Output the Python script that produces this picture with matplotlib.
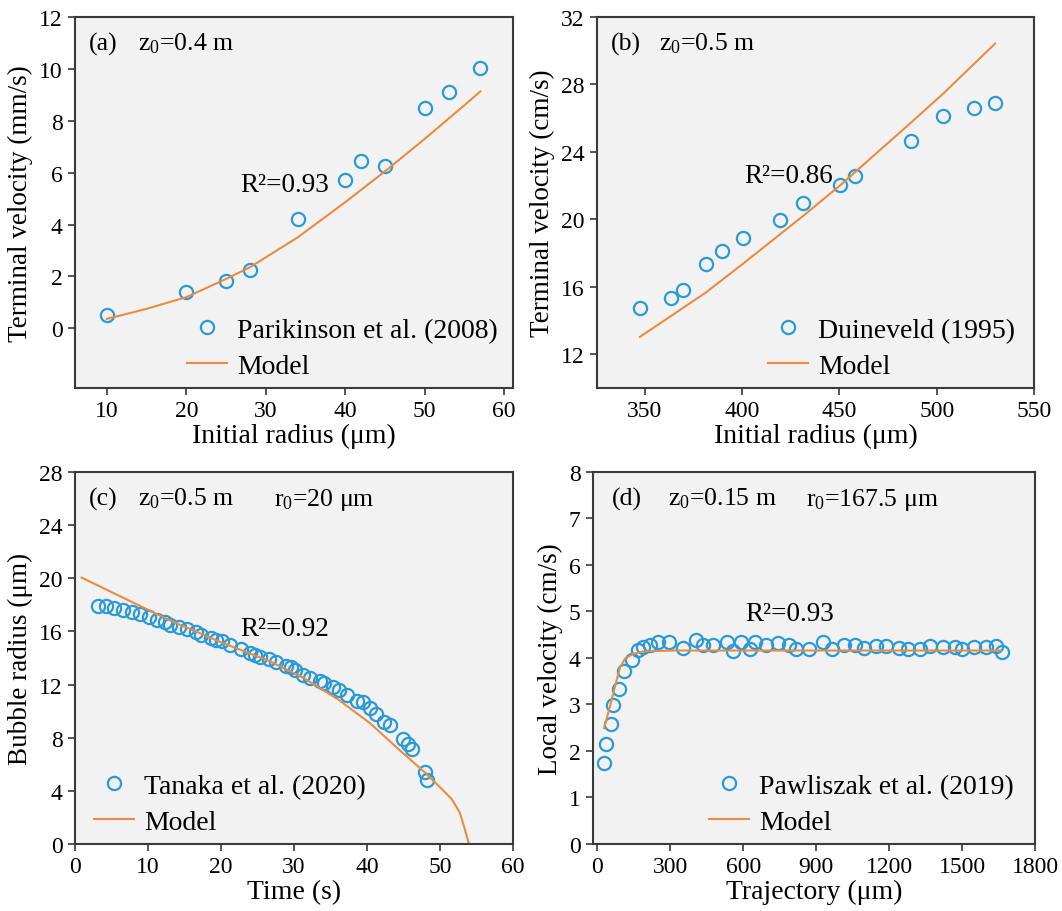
import numpy as np
import matplotlib
matplotlib.use("Agg")
import matplotlib.pyplot as plt

plt.rcParams["font.family"] = ["Liberation Serif", "DejaVu Serif"]
plt.rcParams["mathtext.fontset"] = "custom"
plt.rcParams["mathtext.rm"] = "Liberation Serif"
plt.rcParams["mathtext.it"] = "Liberation Serif:italic"

BLUE = "#2b9ad8"
ORANGE = "#ec8b3f"
BG = "#f2f2f2"
SPINE = "#3a3a3a"

# (a) Parkinson et al. (2008)
a_exp_r = [10, 20, 25, 28, 34, 40, 42, 45, 50, 53, 57]
a_exp_v = [0.51, 1.41, 1.83, 2.23, 4.23, 5.70, 6.43, 6.24, 8.51, 9.09, 10.03]
a_mod_r = [10, 15, 20, 25, 28, 34, 40, 45, 50, 55, 57]
a_mod_v = [0.36, 0.75, 1.2, 1.9, 2.35, 3.5, 4.86, 6.05, 7.3, 8.6, 9.13]

# (b) Duineveld (1995)
b_exp_r = [347.4, 363.2, 369.3, 381.3, 389.4, 400.2, 419.2, 431.3, 450.2, 458.2, 487, 503.3, 519.2, 530]
b_exp_v = [14.77, 15.31, 15.80, 17.33, 18.10, 18.89, 19.96, 20.99, 22.06, 22.57, 24.65, 26.10, 26.63, 26.89]
b_mod_r = [347.4, 381.3, 400.2, 431.3, 450.2, 487, 503.3, 530]
b_mod_v = [13.03, 15.66, 17.35, 20.2, 22.0, 25.76, 27.45, 30.42]

# (c) Tanaka et al. (2020)
c_exp_t = [3.2, 4.25, 5.35, 6.54, 7.8, 8.9, 10.2, 11.3, 12.4, 13.0, 14.3, 15.3, 16.6, 17.3, 18.7,
           19.3, 20.1, 21.2, 22.7, 24.0, 24.7, 25.4, 26.6, 27.6, 28.9, 29.6, 30.2, 31.2, 32.2, 33.6,
           34.1, 35.3, 36.2, 37.3, 38.7, 39.4, 40.4, 41.2, 42.3, 43.2, 44.9, 45.6, 46.2, 48.0, 48.2]
c_exp_r = [17.88, 17.88, 17.76, 17.58, 17.48, 17.3, 17.08, 16.88, 16.68, 16.5, 16.32, 16.2, 15.95, 15.75, 15.5,
           15.37, 15.29, 14.94, 14.66, 14.36, 14.23, 14.1, 13.9, 13.73, 13.43, 13.3, 13.1, 12.7, 12.5, 12.28,
           12.13, 11.8, 11.6, 11.2, 10.75, 10.65, 10.25, 9.75, 9.19, 8.94, 7.93, 7.56, 7.13, 5.42, 4.79]
c_mod_t = [0.9, 13.0, 20.1, 26.7, 31.3, 36.0, 40.4, 44.5, 47.9, 50.0, 51.6, 52.7, 53.4, 53.9, 54.0]
c_mod_r = [20.05, 16.83, 15.16, 13.75, 12.5, 10.9, 9.1, 7.05, 5.40, 4.27, 3.39, 2.39, 1.13, 0.13, 0.0]

# (d) Pawliszak et al. (2019)
d_exp_x = [27.4, 35.6, 56.2, 65.8, 89.1, 109.7, 141.2, 168.6, 189.2, 216.6, 250.9, 296.1, 351, 404.4, 436,
           477, 532, 556.6, 589.5, 628, 648.5, 693.7, 744.5, 788.3, 817, 869.2, 929.5, 965.2, 1014.5, 1059.8,
           1096.8, 1144.8, 1187.3, 1240.8, 1276.5, 1327.2, 1366.9, 1423.1, 1471.1, 1501.2, 1550.6, 1597.2,
           1639.7, 1663]
d_exp_v = [1.74, 2.14, 2.58, 2.99, 3.34, 3.72, 3.96, 4.18, 4.23, 4.28, 4.35, 4.35, 4.22, 4.38, 4.27,
           4.27, 4.35, 4.14, 4.35, 4.19, 4.35, 4.28, 4.33, 4.27, 4.2, 4.2, 4.35, 4.2, 4.28, 4.28,
           4.22, 4.25, 4.25, 4.22, 4.2, 4.2, 4.25, 4.23, 4.23, 4.2, 4.23, 4.23,
           4.25, 4.12]
d_mod_x = [27.6, 52.3, 72.8, 93.4, 114, 148, 189, 313, 800, 1660]
d_mod_v = [2.49, 2.97, 3.40, 3.80, 3.99, 4.09, 4.14, 4.16, 4.16, 4.16]


def style(ax):
    ax.set_facecolor(BG)
    for s in ax.spines.values():
        s.set_color(SPINE)
        s.set_linewidth(1.5)
    ax.tick_params(direction="out", length=5, width=1.2, color=SPINE, labelsize=17, pad=4)


def draw(ax, ex, ey, mx, my, label):
    ax.plot(ex, ey, "o", mfc="none", mec=BLUE, mew=1.6, ms=9.5, label=label)
    ax.plot(mx, my, "-", color=ORANGE, lw=1.5, label="Model")


def legend(ax, x, y):
    ax.legend(loc="lower left", bbox_to_anchor=(x, y), frameon=False, fontsize=20,
              borderpad=0, borderaxespad=0, handlelength=1.45, handletextpad=0.35,
              labelspacing=0.38, numpoints=1)


fig = plt.figure(figsize=(10.62, 9.12), dpi=100)
ax1 = fig.add_axes([0.0706, 0.5735, 0.4124, 0.4068])
ax2 = fig.add_axes([0.5621, 0.5735, 0.4115, 0.4068])
ax3 = fig.add_axes([0.0706, 0.0735, 0.4124, 0.4079])
ax4 = fig.add_axes([0.5584, 0.0735, 0.4162, 0.4079])
for ax in (ax1, ax2, ax3, ax4):
    style(ax)

XL, YL, AN, R2 = 20, 19.5, 18.5, 19.5

# (a)
draw(ax1, a_exp_r, a_exp_v, a_mod_r, a_mod_v, "Parikinson et al. (2008)")
ax1.set_xlim(6, 61.1)
ax1.set_ylim(-2.3, 12)
ax1.set_xticks(range(10, 61, 10))
ax1.set_yticks(range(0, 13, 2))
ax1.set_xlabel("Initial radius (μm)", fontsize=XL, labelpad=1)
ax1.set_ylabel("Terminal velocity (mm/s)", fontsize=YL, labelpad=4)
ax1.text(0.032, 0.912, "(a)", transform=ax1.transAxes, fontsize=AN, va="baseline")
ax1.text(0.143, 0.912, "z$_0$=0.4 m", transform=ax1.transAxes, fontsize=AN, va="baseline")
ax1.text(26.8, 5.31, "R²=0.93", fontsize=R2, va="baseline")
legend(ax1, 0.256, 0.025)

# (b)
draw(ax2, b_exp_r, b_exp_v, b_mod_r, b_mod_v, "Duineveld (1995)")
ax2.set_xlim(325.3, 550)
ax2.set_ylim(10, 32)
ax2.set_xticks(range(350, 551, 50))
ax2.set_yticks(range(12, 33, 4))
ax2.set_xlabel("Initial radius (μm)", fontsize=XL, labelpad=1)
ax2.set_ylabel("Terminal velocity (cm/s)", fontsize=YL, labelpad=4)
ax2.text(0.031, 0.912, "(b)", transform=ax2.transAxes, fontsize=AN, va="baseline")
ax2.text(0.143, 0.912, "z$_0$=0.5 m", transform=ax2.transAxes, fontsize=AN, va="baseline")
ax2.text(400.9, 22.24, "R²=0.86", fontsize=R2, va="baseline")
legend(ax2, 0.391, 0.025)

# (c)
draw(ax3, c_exp_t, c_exp_r, c_mod_t, c_mod_r, "Tanaka et al. (2020)")
ax3.set_xlim(0, 60)
ax3.set_ylim(0, 28)
ax3.set_xticks(range(0, 61, 10))
ax3.set_yticks(range(0, 29, 4))
ax3.set_xlabel("Time (s)", fontsize=XL, labelpad=1)
ax3.set_ylabel("Bubble radius (μm)", fontsize=YL, labelpad=4)
ax3.text(0.032, 0.912, "(c)", transform=ax3.transAxes, fontsize=AN, va="baseline")
ax3.text(0.143, 0.912, "z$_0$=0.5 m", transform=ax3.transAxes, fontsize=AN, va="baseline")
ax3.text(0.454, 0.912, "r$_0$=20 μm", transform=ax3.transAxes, fontsize=AN, va="baseline")
ax3.text(22.6, 15.74, "R²=0.92", fontsize=R2, va="baseline")
legend(ax3, 0.043, 0.025)

# (d)
draw(ax4, d_exp_x, d_exp_v, d_mod_x, d_mod_v, "Pawliszak et al. (2019)")
ax4.set_xlim(-18, 1800)
ax4.set_ylim(0, 8)
ax4.set_xticks(range(0, 1801, 300))
ax4.set_yticks(range(0, 9, 1))
ax4.set_xlabel("Trajectory (μm)", fontsize=XL, labelpad=1)
ax4.set_ylabel("Local velocity (cm/s)", fontsize=YL, labelpad=4)
ax4.text(0.042, 0.912, "(d)", transform=ax4.transAxes, fontsize=AN, va="baseline")
ax4.text(0.170, 0.912, "z$_0$=0.15 m", transform=ax4.transAxes, fontsize=AN, va="baseline")
ax4.text(0.482, 0.912, "r$_0$=167.5 μm", transform=ax4.transAxes, fontsize=AN, va="baseline")
ax4.text(608, 4.81, "R²=0.93", fontsize=R2, va="baseline")
legend(ax4, 0.262, 0.025)

fig.savefig("out.png", dpi=100)
